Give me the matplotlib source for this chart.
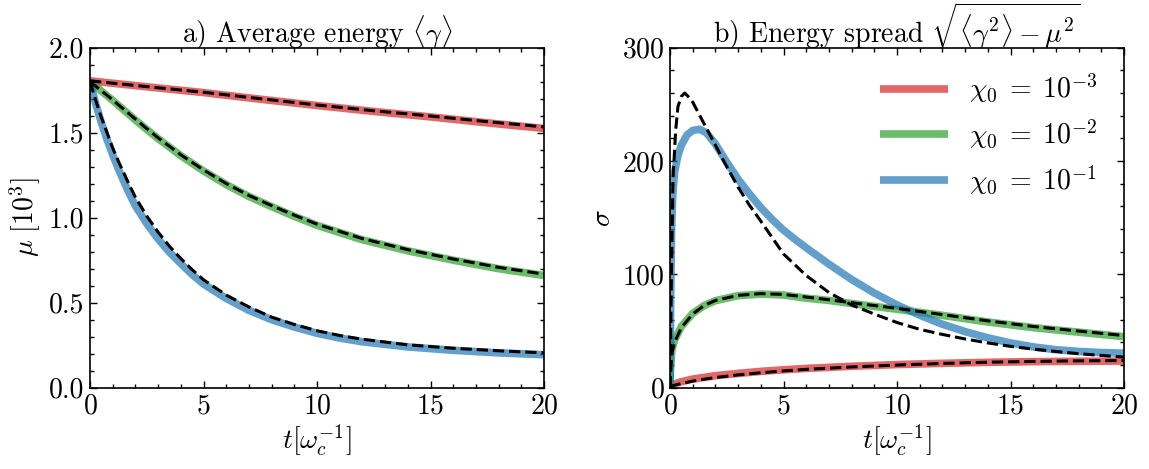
import numpy as np
import matplotlib
matplotlib.use("Agg")
import matplotlib.pyplot as plt
from matplotlib.ticker import MultipleLocator, FormatStrFormatter

plt.rcParams["font.family"] = "serif"
plt.rcParams["font.serif"] = ["cmr10"]
plt.rcParams["mathtext.fontset"] = "cm"
plt.rcParams["axes.unicode_minus"] = False
plt.rcParams["axes.formatter.use_mathtext"] = True

# ---- panel a) average energy, mu [10^3] ----
t_red_a = [0, 2.5, 5, 7.5, 10, 12.5, 15, 17.5, 20]
mu_red = [1.805, 1.770, 1.736, 1.697, 1.660, 1.625, 1.593, 1.558, 1.525]
mu_red_cl = [1.805, 1.771, 1.738, 1.700, 1.663, 1.629, 1.598, 1.565, 1.534]

t_green_a = [0, 0.5, 1, 1.5, 2, 2.5, 3, 4, 5, 6, 7, 8, 9, 10, 12, 14, 16,
             18, 20]
mu_green = [1.80, 1.745, 1.69, 1.632, 1.575, 1.519, 1.465, 1.365, 1.275,
            1.195, 1.125, 1.065, 1.008, 0.955, 0.870, 0.805, 0.750, 0.700,
            0.660]
mu_green_cl = [1.80, 1.747, 1.693, 1.636, 1.580, 1.524, 1.470, 1.370, 1.281,
               1.201, 1.131, 1.071, 1.015, 0.962, 0.877, 0.812, 0.757, 0.708,
               0.668]

t_blue_a = [0, 0.25, 0.5, 0.75, 1, 1.25, 1.5, 1.75, 2, 2.5, 3, 3.5, 4, 4.5,
            5, 6, 7, 8, 9, 10, 11, 12, 14, 16, 18, 20]
mu_blue = [1.80, 1.67, 1.56, 1.46, 1.37, 1.287, 1.21, 1.137, 1.07, 0.965,
           0.875, 0.797, 0.73, 0.666, 0.61, 0.525, 0.455, 0.40, 0.357, 0.32,
           0.292, 0.27, 0.24, 0.22, 0.205, 0.194]
mu_blue_cl = [1.80, 1.69, 1.59, 1.50, 1.41, 1.332, 1.26, 1.188, 1.12, 1.01,
              0.915, 0.832, 0.76, 0.694, 0.635, 0.545, 0.475, 0.415, 0.372,
              0.335, 0.307, 0.285, 0.252, 0.232, 0.217, 0.205]

# ---- panel b) energy spread sigma ----
t_red_b = [0, 0.1, 0.3, 0.5, 1, 2, 3, 4, 5, 6, 8, 10, 12, 14, 16, 18, 20]
sig_red = [0, 2.5, 4.0, 5.3, 7.6, 10.6, 12.6, 14.4, 15.8, 17.0, 18.9, 20.4,
           21.5, 22.4, 23.0, 23.3, 23.5]
sig_red_cl = [0, 1.5, 2.8, 3.6, 5.9, 9.0, 11.3, 13.2, 14.8, 16.2, 18.3, 20.0,
              21.4, 22.5, 23.2, 23.7, 24.0]

t_green_b = [0, 0.02, 0.08, 0.2, 0.5, 1, 1.5, 2, 3, 4, 5, 6, 7, 8, 10, 12,
             14, 16, 18, 20]
sig_green = [0, 15, 33, 42, 54, 65.6, 72.4, 76.8, 81.2, 82.6, 81.8, 79.0,
             77.0, 74.3, 69.2, 63.8, 58.0, 53.0, 49.0, 45.0]
sig_green_cl = [0, 12, 30, 40, 53, 65.0, 72.5, 77.0, 81.5, 83.0, 82.3, 80.0,
                77.6, 75.0, 70.0, 64.5, 59.0, 54.0, 50.0, 46.0]

t_blue_b = [0, 0.03, 0.07, 0.12, 0.2, 0.35, 0.5, 0.75, 1.0, 1.3, 1.6, 2.0,
            2.5, 3.0, 3.5, 4.0, 4.5, 5.0, 5.5, 6, 7, 8, 9, 10, 11, 12, 13,
            14, 15, 16, 17, 18, 19, 20]
sig_blue = [0, 80, 140, 170, 190, 205, 214, 223, 227, 228, 225, 215, 199,
            184, 171, 159, 148.5, 139, 131, 123.5, 109, 95.5, 83.5, 73, 64,
            56, 49.5, 44, 39.5, 36, 33.5, 32, 31, 30.5]

t_blue_cl_b = [0, 0.06, 0.13, 0.25, 0.35, 0.5, 0.65, 0.85, 1.0, 1.5, 2.0,
               2.5, 3.0, 3.5, 4.0, 5.0, 6.0, 7.0, 8.0, 9.0, 10, 11, 12, 13,
               14, 15, 16, 17, 18, 19, 20]
sig_blue_cl = [0, 95, 183, 227, 248, 257, 260, 256, 252, 233, 214, 195, 177,
               161, 147, 118, 99, 84, 73, 65, 57.5, 51.5, 47, 43, 39.5, 36.5,
               34, 32, 30, 28.5, 27]

colors = ["tab:red", "tab:green", "tab:blue"]
labels = [r"$\chi_0\;=\;10^{-3}$", r"$\chi_0\;=\;10^{-2}$",
          r"$\chi_0\;=\;10^{-1}$"]
LW = 5.5
DLW = 2.2
FS = 20

fig = plt.figure(figsize=(11.49, 4.69), dpi=100)
ax1 = fig.add_axes([90 / 1149, 81.3 / 469, 454 / 1149, 340 / 469])
ax2 = fig.add_axes([670 / 1149, 81.3 / 469, 454 / 1149, 340 / 469])

sol_a = [(t_red_a, mu_red), (t_green_a, mu_green), (t_blue_a, mu_blue)]
cl_a = [(t_red_a, mu_red_cl), (t_green_a, mu_green_cl), (t_blue_a, mu_blue_cl)]
for (t, y), c in zip(sol_a, colors):
    ax1.plot(t, y, color=c, alpha=0.7, lw=LW, solid_capstyle="butt")
for t, y in cl_a:
    ax1.plot(t, y, "k--", lw=DLW)

sol_b = [(t_red_b, sig_red), (t_green_b, sig_green), (t_blue_b, sig_blue)]
cl_b = [(t_red_b, sig_red_cl), (t_green_b, sig_green_cl),
        (t_blue_cl_b, sig_blue_cl)]
for (t, y), c, lab in zip(sol_b, colors, labels):
    ax2.plot(t, y, color=c, alpha=0.7, lw=LW, label=lab, solid_capstyle="butt")
for t, y in cl_b:
    ax2.plot(t, y, "k--", lw=DLW)

ax1.set_xlim(0, 20)
ax1.set_ylim(0, 2.0)
ax1.yaxis.set_major_locator(MultipleLocator(0.5))
ax1.yaxis.set_minor_locator(MultipleLocator(0.1))
ax1.yaxis.set_major_formatter(FormatStrFormatter("%.1f"))
ax1.set_ylabel(r"$\mu\ [10^3]$", fontsize=FS, labelpad=4)
ax1.set_title(r"a) Average energy $\langle\gamma\rangle$", fontsize=FS,
              pad=0, y=1.015)

ax2.set_xlim(0, 20)
ax2.set_ylim(0, 300)
ax2.yaxis.set_major_locator(MultipleLocator(100))
ax2.yaxis.set_minor_locator(MultipleLocator(20))
ax2.set_ylabel(r"$\sigma$", fontsize=FS, labelpad=4)
ax2.set_title(r"b) Energy spread $\sqrt{\langle\gamma^2\rangle - \mu^2}$",
              fontsize=FS, pad=0, y=1.015)

for ax in (ax1, ax2):
    ax.xaxis.set_major_locator(MultipleLocator(5))
    ax.xaxis.set_minor_locator(MultipleLocator(1))
    ax.set_xlabel(r"$t[\omega_c^{-1}]$", fontsize=FS, labelpad=2)
    ax.tick_params(which="both", direction="in", top=True, right=True,
                   labelsize=FS, width=1.0)
    ax.tick_params(which="major", length=5, pad=4)
    ax.tick_params(which="minor", length=3)
    for sp in ax.spines.values():
        sp.set_linewidth(1.2)

leg = ax2.legend(loc="upper right", bbox_to_anchor=(0.985, 0.985),
                 frameon=False, fontsize=FS, handlelength=2.45,
                 handletextpad=0.75, labelspacing=0.45, borderaxespad=0.3)
for h in leg.get_lines():
    h.set_linewidth(LW)

fig.savefig("out.png", dpi=100)
